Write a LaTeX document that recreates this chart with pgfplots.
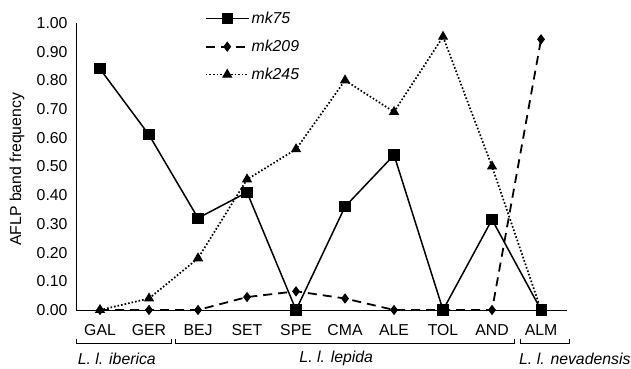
\documentclass[border=0pt]{standalone}
\usepackage{fontspec}
\setmainfont{Liberation Sans}
\usepackage{pgfplots}
\pgfplotsset{compat=1.18}
\newcommand{\ff}{\fontsize{15.8}{18}\selectfont}
\begin{document}
\begin{tikzpicture}
\begin{axis}[
  scale only axis,
  width=491pt, height=287pt,
  xmin=-0.49, xmax=9.53, ymin=0, ymax=1,
  axis x line=bottom, axis y line=left,
  axis line style={-, line width=0.9pt},
  clip=false,
  xtick={0,...,9},
  xticklabels={GAL,GER,BEJ,SET,SPE,CMA,ALE,TOL,AND,ALM},
  ytick={0,0.1,...,1.0},
  major tick length=0pt,
  yticklabel={\pgfmathprintnumber[fixed,fixed zerofill,precision=2]{\tick}},
  /pgf/number format/assume math mode=true,
  tick label style={font=\ff},
  xticklabel style={anchor=center, yshift=-20pt},
  yticklabel style={xshift=-5pt},
  ylabel={AFLP band frequency},
  ylabel style={at={(axis description cs:-0.12,0.49)}, anchor=center, font=\ff},
  legend style={draw=none, fill=none, inner sep=0pt, at={(axis description cs:0.262,1.045)}, anchor=north west,
     font=\ff\itshape, row sep=11pt, cells={anchor=west}},
  legend image code/.code={\draw[mark repeat=2,mark phase=2] plot coordinates {(0pt,0pt)(21.5pt,0pt)(43pt,0pt)};},
]
\addplot[black, line width=1.5pt, mark=square*, mark size=4.8pt, mark options={solid}]
 coordinates {(0,0.84)(1,0.61)(2,0.32)(3,0.41)(4,0)(5,0.36)(6,0.54)(7,0)(8,0.315)(9,0)};
\addlegendentry{mk75}
\addplot[black, line width=1.8pt, dash pattern=on 9pt off 6pt, mark=diamond*, mark size=4.4pt, mark options={solid, line width=1pt}]
 coordinates {(0,0)(1,0)(2,0)(3,0.045)(4,0.065)(5,0.04)(6,0)(7,0)(8,0)(9,0.943)};
\addlegendentry{mk209}
\addplot[black, line width=1.7pt, dash pattern=on 1.6pt off 2pt, mark=triangle*, mark size=5pt, mark options={solid, line width=1pt}]
 coordinates {(0,0)(1,0.04)(2,0.18)(3,0.455)(4,0.56)(5,0.80)(6,0.69)(7,0.952)(8,0.50)(9,0)};
\addlegendentry{mk245}
% group brackets
\draw[line width=0.9pt] (axis cs:-0.476,-0.100) -- (axis cs:-0.476,-0.115) -- (axis cs:1.46,-0.115) -- (axis cs:1.46,-0.100);
\draw[line width=0.9pt] (axis cs:1.545,-0.100) -- (axis cs:1.545,-0.115) -- (axis cs:8.45,-0.115) -- (axis cs:8.45,-0.100);
\draw[line width=0.9pt] (axis cs:8.57,-0.100) -- (axis cs:8.57,-0.115) -- (axis cs:9.57,-0.115) -- (axis cs:9.57,-0.100);
\node[font=\ff\itshape, anchor=west, inner sep=0pt] at (axis cs:-0.455,-0.170) {L. l. iberica};
\node[font=\ff\itshape, inner sep=0pt] at (axis cs:4.82,-0.170) {L. l. lepida};
\node[font=\ff\itshape, anchor=west, inner sep=0pt] at (axis cs:8.55,-0.170) {L. l. nevadensis};
\path (rel axis cs:-0.1548,-0.2044) rectangle (rel axis cs:1.1303,1.080);
\end{axis}
\end{tikzpicture}
\end{document}
